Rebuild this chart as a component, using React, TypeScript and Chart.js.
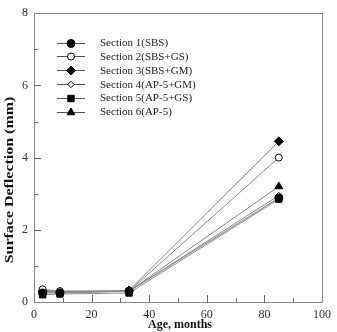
import React, { useEffect, useRef } from "react";
import { Chart, registerables } from "chart.js";
import { drawPoint } from "chart.js/helpers";

Chart.register(...registerables);

const ages = [3, 9, 33, 85];
const seriesNames = [
  "Section 1(SBS)",
  "Section 2(SBS+GS)",
  "Section 3(SBS+GM)",
  "Section 4(AP-5+GM)",
  "Section 5(AP-5+GS)",
  "Section 6(AP-5)",
];
const s1 = [0.25, 0.25, 0.3, 2.88];
const s2 = [0.35, 0.3, 0.3, 4.0];
const s3 = [0.3, 0.28, 0.32, 4.45];
const s4 = [0.33, 0.3, 0.3, 2.95];
const s5 = [0.2, 0.22, 0.25, 2.85];
const s6 = [0.28, 0.26, 0.3, 3.2];
const seriesValues = [s1, s2, s3, s4, s5, s6];
const xTicks = [0, 20, 40, 60, 80, 100];
const yTicks = [0, 2, 4, 6, 8];

const markerStyles = [
  { pointStyle: "circle", radius: 4, fill: "#000" },
  { pointStyle: "circle", radius: 3.5, fill: "#fff" },
  { pointStyle: "rectRot", radius: 4.5, fill: "#000" },
  { pointStyle: "rectRot", radius: 3.2, fill: "#fff" },
  { pointStyle: "rect", radius: 4.5, fill: "#000" },
  { pointStyle: "triangle", radius: 4.5, fill: "#000" },
];

const FONT = "'Liberation Serif', 'Times New Roman', serif";

const framePlugin = {
  id: "frame",
  beforeDatasetsDraw(chart: any) {
    const { ctx, chartArea } = chart;
    const xs = chart.scales.x;
    const ys = chart.scales.y;
    ctx.save();
    ctx.strokeStyle = "#888";
    ctx.lineWidth = 1;
    ctx.strokeRect(
      Math.round(chartArea.left) + 0.5,
      Math.round(chartArea.top) + 0.5,
      Math.round(chartArea.right - chartArea.left),
      Math.round(chartArea.bottom - chartArea.top)
    );
    ctx.strokeStyle = "#666";
    ctx.beginPath();
    for (let v = 10; v < 100; v += 10) {
      const px = Math.round(xs.getPixelForValue(v)) + 0.5;
      const len = v % 20 === 0 ? 7 : 4;
      ctx.moveTo(px, chartArea.bottom);
      ctx.lineTo(px, chartArea.bottom - len);
    }
    for (let v = 1; v < 8; v += 1) {
      const py = Math.round(ys.getPixelForValue(v)) + 0.5;
      const len = v % 2 === 0 ? 7 : 4;
      ctx.moveTo(chartArea.left, py);
      ctx.lineTo(chartArea.left + len, py);
    }
    ctx.stroke();

    // axis titles
    ctx.fillStyle = "#111";
    ctx.font = `bold 12px ${FONT}`;
    ctx.textAlign = "center";
    ctx.textBaseline = "middle";
    ctx.fillText("Age, months", 180, 325);
    ctx.translate(10, 180);
    ctx.rotate(-Math.PI / 2);
    ctx.scale(1.33, 1);
    ctx.fillText("Surface Deflection (mm)", 0, 0);
    ctx.restore();
  },
  afterDatasetsDraw(chart: any) {
    const { ctx } = chart;
    ctx.save();
    const y0 = 42.5;
    const step = 13.9;
    seriesNames.forEach((name, i) => {
      const y = y0 + i * step;
      ctx.strokeStyle = "#555";
      ctx.lineWidth = 1;
      ctx.beginPath();
      ctx.moveTo(57, Math.round(y) + 0.5);
      ctx.lineTo(85, Math.round(y) + 0.5);
      ctx.stroke();
      const m = markerStyles[i];
      ctx.fillStyle = m.fill;
      ctx.strokeStyle = "#000";
      ctx.lineWidth = 1;
      drawPoint(ctx, { pointStyle: m.pointStyle, rotation: 0, radius: m.radius, borderWidth: 1 } as any, 71, Math.round(y) + 0.5);
      ctx.fillStyle = "#222";
      ctx.font = `11px ${FONT}`;
      ctx.textAlign = "left";
      ctx.textBaseline = "middle";
      ctx.fillText(name, 100, y + 0.5);
    });
    ctx.restore();
  },
};

export default function App() {
  const ref = useRef<HTMLCanvasElement | null>(null);
  useEffect(() => {
    if (!ref.current) return;
    const datasets = seriesValues.map((vals, i) => ({
      label: seriesNames[i],
      data: vals.map((v, j) => ({ x: ages[j], y: v })),
      borderColor: "#8a8a8a",
      borderWidth: 1,
      backgroundColor: markerStyles[i].fill,
      pointBackgroundColor: markerStyles[i].fill,
      pointBorderColor: "#000",
      pointBorderWidth: 1,
      pointStyle: markerStyles[i].pointStyle,
      pointRadius: markerStyles[i].radius,
      tension: 0,
      fill: false,
    }));
    const chart = new Chart(ref.current, {
      type: "line",
      data: { datasets },
      plugins: [framePlugin],
      options: {
        animation: false,
        responsive: false,
        devicePixelRatio: 1,
        layout: { padding: { left: 0, top: 11, right: 14, bottom: 0 } },
        plugins: { legend: { display: false }, tooltip: { enabled: false } },
        scales: {
          x: {
            type: "linear",
            min: 0,
            max: 100,
            grid: { display: false, drawTicks: false },
            border: { display: false },
            afterBuildTicks: (s: any) => {
              s.ticks = xTicks.map((v) => ({ value: v }));
            },
            afterFit: (s: any) => {
              s.height = 30;
            },
            ticks: {
              padding: 6,
              color: "#333",
              font: { family: FONT, size: 12 },
              maxRotation: 0,
            },
          },
          y: {
            type: "linear",
            min: 0,
            max: 8,
            grid: { display: false, drawTicks: false },
            border: { display: false },
            afterBuildTicks: (s: any) => {
              s.ticks = yTicks.map((v) => ({ value: v }));
            },
            afterFit: (s: any) => {
              s.width = 34;
            },
            ticks: {
              padding: 6,
              color: "#333",
              font: { family: FONT, size: 12 },
            },
          },
        },
      } as any,
    });
    return () => chart.destroy();
  }, []);
  return (
    <div style={{ position: "absolute", left: 0, top: 0, width: 337, height: 332, background: "#fff" }}>
      <canvas ref={ref} width={337} height={332} />
    </div>
  );
}
